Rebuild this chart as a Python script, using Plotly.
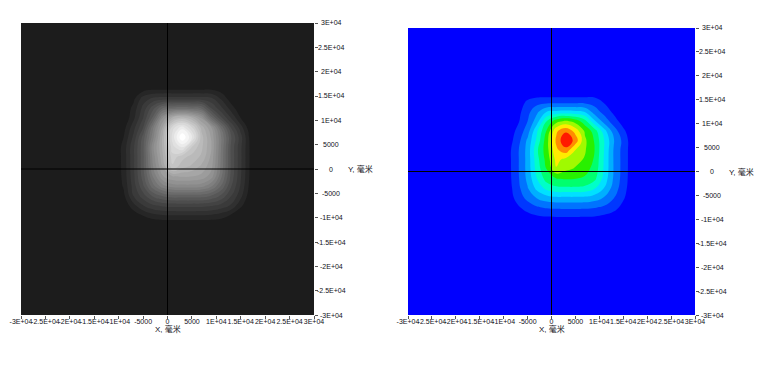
import plotly.graph_objects as go

# grid coordinates (mm)
x_vals = [-30000, -13000, -11000, -9000, -7000, -5000, -3000, -1000, 1000, 3000,
          5000, 7000, 9000, 11000, 13000, 15000, 17000, 19000, 30000]
y_vals = [-30000, -13500, -11500, -9500, -7500, -5500, -3500, -1500, 500, 2500,
          4500, 6500, 8500, 10500, 12500, 14500, 16500, 18500, 30000]

# intensity values (rows follow y_vals, columns follow x_vals)
z_rows = [
    [0, 0, 0, 0, 0, 0, 0, 0, 0, 0, 0, 0, 0, 0, 0, 0, 0, 0, 0],
    [0, 0, 0, 0, 0, 0, 0, 0, 0, 0, 0, 0, 0, 0, 0, 0, 0, 0, 0],
    [0, 0, 0, 0, 0, 0, 0, 0, 0, 0, 0, 0, 0, 0, 0, 0, 0, 0, 0],
    [0, 0, 0, 0, 0.14, 0.54, 0.83, 0.96, 1.0, 1.0, 1.0, 0.99, 0.94, 0.77, 0.45, 0.03, 0, 0, 0],
    [0, 0, 0, 0.07, 0.83, 1.48, 1.9, 2.11, 2.18, 2.19, 2.19, 2.17, 2.07, 1.82, 1.43, 0.62, 0, 0, 0],
    [0, 0, 0, 0.36, 1.5, 2.28, 3.09, 3.57, 3.78, 3.8, 3.8, 3.75, 3.47, 2.91, 2.04, 1.16, 0.13, 0, 0],
    [0, 0, 0, 0.56, 1.71, 2.92, 4.32, 5.32, 5.76, 5.81, 5.81, 5.7, 5.09, 3.96, 2.57, 1.43, 0.28, 0, 0],
    [0, 0, 0, 0.65, 1.84, 3.26, 5.02, 6.45, 6.97, 7.07, 7.01, 6.85, 6.25, 4.62, 2.87, 1.55, 0.36, 0, 0],
    [0, 0, 0, 0.67, 1.88, 3.36, 5.47, 7.02, 8.9, 8.2, 7.9, 7.35, 6.66, 4.85, 2.95, 1.59, 0.38, 0, 0],
    [0, 0, 0, 0.68, 1.88, 3.36, 5.65, 7.4, 9.3, 8.7, 8.3, 7.9, 6.85, 4.9, 2.94, 1.6, 0.38, 0, 0],
    [0, 0, 0, 0.68, 1.88, 3.36, 5.85, 7.6, 9.8, 10.6, 9.0, 8.1, 7.0, 4.97, 2.94, 1.6, 0.38, 0, 0],
    [0, 0, 0, 0.5, 1.6, 3.2, 5.3, 7.6, 10.2, 12.0, 10.6, 8.2, 6.9, 5.0, 3.1, 1.7, 0.3, 0, 0],
    [0, 0, 0, 0.3, 1.3, 2.5, 4.9, 7.1, 9.8, 10.8, 9.6, 7.8, 6.5, 4.4, 2.5, 1.25, 0.1, 0, 0],
    [0, 0, 0, 0.05, 0.85, 2.0, 3.6, 6.0, 7.6, 8.2, 7.6, 6.4, 4.2, 2.6, 1.5, 0.5, 0, 0, 0],
    [0, 0, 0, 0, 0.67, 1.66, 2.8, 4.0, 4.2, 4.3, 4.2, 3.95, 2.5, 1.63, 0.78, 0.07, 0, 0, 0],
    [0, 0, 0, 0, 0.34, 1.23, 1.6, 1.7, 1.7, 1.7, 1.7, 1.7, 1.6, 0.91, 0.21, 0, 0, 0, 0],
    [0, 0, 0, 0, 0, 0.2, 0.35, 0.35, 0.35, 0.35, 0.35, 0.35, 0.35, 0.2, 0, 0, 0, 0, 0],
    [0, 0, 0, 0, 0, 0, 0, 0, 0, 0, 0, 0, 0, 0, 0, 0, 0, 0, 0],
    [0, 0, 0, 0, 0, 0, 0, 0, 0, 0, 0, 0, 0, 0, 0, 0, 0, 0, 0],
]

tick_vals = [-30000, -25000, -20000, -15000, -10000, -5000, 0,
             5000, 10000, 15000, 20000, 25000, 30000]
tick_text = ["-3E+04", "-2.5E+04", "-2E+04", "-1.5E+04", "-1E+04", "-5000", "0",
             "5000", "1E+04", "1.5E+04", "2E+04", "2.5E+04", "3E+04"]

axis_title = "毫米"

gray_scale = [[0, "rgb(28,28,28)"], [1, "rgb(255,255,255)"]]
jet_colors = ["rgb(0,0,255)", "rgb(0,55,255)", "rgb(0,115,255)", "rgb(0,175,255)",
              "rgb(0,225,255)", "rgb(0,255,200)", "rgb(0,255,110)", "rgb(40,240,0)",
              "rgb(160,250,0)", "rgb(255,235,0)", "rgb(255,140,0)", "rgb(255,25,0)"]
jet_scale = [[i / (len(jet_colors) - 1), c] for i, c in enumerate(jet_colors)]

W, H = 763, 366
panels = [
    dict(x0=21, x1=314, y0=23, y1=315),
    dict(x0=408, x1=695, y0=28, y1=315),
]

fig = go.Figure()
fig.add_trace(go.Contour(
    x=x_vals, y=y_vals, z=z_rows, colorscale=gray_scale, showscale=False,
    contours=dict(start=0.5, end=11.5, size=0.5, coloring="fill", showlines=False),
    line=dict(width=0, smoothing=1.3), hoverinfo="skip", xaxis="x", yaxis="y"))
fig.add_trace(go.Contour(
    x=x_vals, y=y_vals, z=z_rows, colorscale=jet_scale, showscale=False,
    contours=dict(start=1, end=11, size=1, coloring="fill", showlines=False),
    line=dict(width=0, smoothing=1.3), hoverinfo="skip", xaxis="x2", yaxis="y2"))

tick_font = dict(family="Liberation Sans, Arial, sans-serif", size=7, color="#101020")
title_font = dict(family="Liberation Sans, Noto Sans CJK SC, sans-serif", size=8, color="#101020")

common = dict(range=[-30000, 30000], tickmode="array", tickvals=tick_vals, ticktext=tick_text,
              showgrid=False, zeroline=False, ticks="outside", ticklen=3, tickcolor="#555555",
              tickwidth=1, tickfont=tick_font, showline=False, tickangle=0, fixedrange=True,
              automargin=False)

layout = dict(width=W, height=H, margin=dict(l=0, r=0, t=0, b=0, pad=0, autoexpand=False),
              paper_bgcolor="white", plot_bgcolor="white", showlegend=False)
annotations = []
shapes = []
for i, p in enumerate(panels):
    sx = "" if i == 0 else str(i + 1)
    layout["xaxis" + sx] = dict(common, domain=[p["x0"] / W, p["x1"] / W], anchor="y" + sx,
                                side="bottom", ticklabelstandoff=-3)
    layout["yaxis" + sx] = dict(common, domain=[1 - p["y1"] / H, 1 - p["y0"] / H], anchor="x" + sx,
                                side="right", showticklabels=False)
    # zero cross lines
    shapes.append(dict(type="line", xref="x" + sx, yref="y" + sx + " domain", x0=0, x1=0, y0=0, y1=1,
                       line=dict(color="black", width=1), layer="above"))
    shapes.append(dict(type="line", xref="x" + sx + " domain", yref="y" + sx, x0=0, x1=1, y0=0, y1=0,
                       line=dict(color="black", width=1), layer="above"))
    for v, t in zip(tick_vals, tick_text):
        annotations.append(dict(x=(p["x1"] + 17) / W, xref="paper", y=v, yref="y" + sx, text=t,
                                showarrow=False, xanchor="center", yanchor="middle", font=tick_font))
    annotations.append(dict(x=0, xref="x" + sx, y=1 - 329 / H, yref="paper", text="X, " + axis_title,
                            showarrow=False, xanchor="center", yanchor="middle", font=title_font))
    annotations.append(dict(x=(p["x1"] + 32) / W, xref="paper", y=0, yref="y" + sx, text="Y, " + axis_title,
                            showarrow=False, xanchor="left", yanchor="middle", font=title_font))
layout["annotations"] = annotations
layout["shapes"] = shapes
fig.update_layout(**layout)
fig.write_html("out.html")
